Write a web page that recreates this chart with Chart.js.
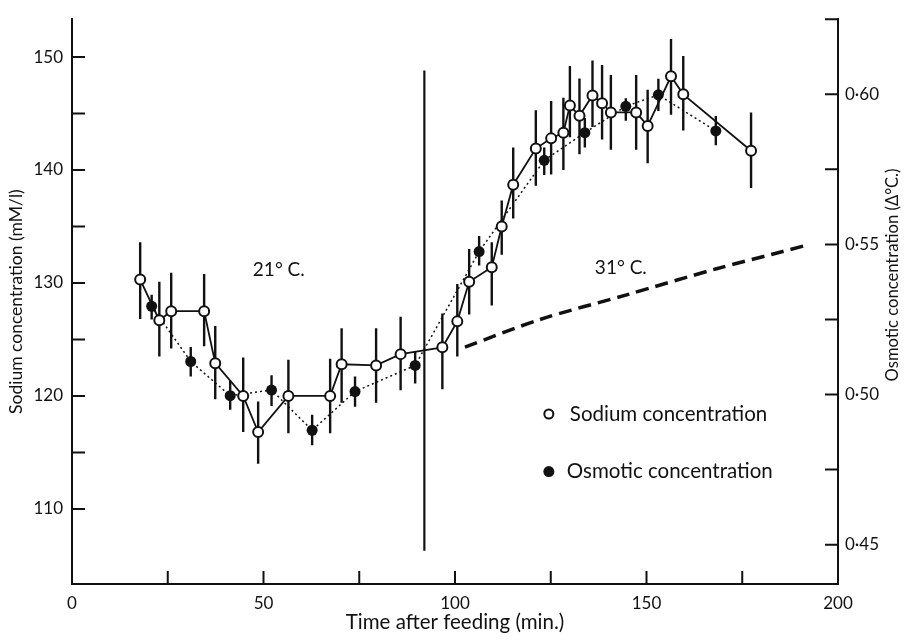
<!DOCTYPE html>
<html>
<head>
<meta charset="utf-8">
<script src="https://cdn.jsdelivr.net/npm/chart.js@4.4.1/dist/chart.umd.min.js"></script>
<style>
  html, body { margin: 0; padding: 0; background: #fff; }
</style>
</head>
<body>
<canvas id="myChart" width="905" height="640"></canvas>
<script>
'use strict'

// sodium concentration (open circles), mM/l, with error bar ends
var sodiumTime   = [17.8, 22.8, 25.9, 34.5, 37.4, 44.7, 48.6, 56.5, 67.4, 70.4, 79.4, 85.8, 96.7, 100.6, 103.7, 109.6, 112.2, 115.2, 121.1, 125.1, 128.3, 130.0, 132.5, 135.9, 138.4, 140.7, 147.3, 150.3, 156.4, 159.6, 177.3];
var sodiumValues = [130.3, 126.7, 127.5, 127.5, 122.9, 120.0, 116.8, 120.0, 120.0, 122.8, 122.7, 123.7, 124.3, 126.6, 130.1, 131.4, 135.0, 138.7, 141.9, 142.8, 143.3, 145.7, 144.8, 146.6, 145.9, 145.1, 145.1, 143.9, 148.3, 146.7, 141.7];
var sodiumLow    = [126.8, 123.5, 124.2, 124.4, 119.7, 116.8, 114.0, 116.7, 116.7, 119.4, 119.4, 120.5, 120.6, 123.5, 127.2, 128.0, 132.5, 135.7, 138.6, 139.6, 140.0, 142.9, 141.4, 143.8, 142.7, 141.8, 141.8, 140.6, 144.9, 143.5, 138.4];
var sodiumHigh   = [133.6, 130.1, 130.9, 130.8, 126.2, 123.4, 119.5, 123.2, 123.3, 126.0, 126.0, 127.0, 127.3, 129.9, 133.0, 133.6, 137.3, 142.0, 145.3, 146.1, 146.4, 149.2, 148.1, 149.7, 149.3, 148.4, 148.4, 147.1, 151.6, 150.1, 145.1];

// osmotic concentration (filled circles), delta degC
var osmoticTime   = [20.8, 31.0, 41.3, 52.1, 62.7, 73.9, 89.6, 106.3, 123.3, 133.9, 144.6, 153.1, 168.1];
var osmoticValues = [0.5294, 0.5110, 0.4996, 0.5015, 0.4881, 0.5010, 0.5097, 0.5476, 0.5780, 0.5872, 0.5960, 0.5998, 0.5878];
var osmoticLow    = [0.5250, 0.5060, 0.4949, 0.4962, 0.4831, 0.4959, 0.5037, 0.5430, 0.5731, 0.5823, 0.5912, 0.5944, 0.5830];
var osmoticHigh   = [0.5332, 0.5158, 0.5047, 0.5064, 0.4933, 0.5060, 0.5145, 0.5528, 0.5823, 0.5921, 0.5987, 0.6052, 0.5928];

// thick dashed line (31 C period)
var dashedTime   = [102.6, 122.2, 144.8, 168.3, 183.1, 191.4];
var dashedValues = [0.5158, 0.5250, 0.5332, 0.5419, 0.5468, 0.5496];

// temperature change marker
var switchTime   = [92, 92];
var switchSodium = [106.3, 148.8];

// axes
var timeTicks         = [0, 50, 100, 150, 200];
var timeMinorTicks    = [25, 75, 125, 175];
var sodiumTicks       = [110, 120, 130, 140, 150];
var sodiumMinorTicks  = [115, 125, 135, 145];
var osmoticTicks      = [0.45, 0.50, 0.55, 0.60];
var osmoticMinorTicks = [0.475, 0.525, 0.575, 0.625];

var seriesNames = ['Sodium concentration', 'Osmotic concentration'];
var tempLabels  = ['21\u00b0 C.', '31\u00b0 C.'];

var INK = '#111';
var FONT = 'Lato';

function toPoints(xs, ys) {
    return xs.map(function (v, i) { return {x: v, y: ys[i]}; });
}

var paperPlugin = {
    id: 'paper',
    beforeDatasetsDraw: function (chart) {
        var ctx = chart.ctx;
        var sx = chart.scales.x, sy = chart.scales.y, sy2 = chart.scales.y2;
        ctx.save();
        ctx.strokeStyle = INK;
        ctx.lineWidth = 2.4;
        ctx.beginPath();
        for (var i = 0; i < sodiumTime.length; i++) {
            var px = sx.getPixelForValue(sodiumTime[i]);
            ctx.moveTo(px, sy.getPixelForValue(sodiumLow[i]));
            ctx.lineTo(px, sy.getPixelForValue(sodiumHigh[i]));
        }
        for (var j = 0; j < osmoticTime.length; j++) {
            var qx = sx.getPixelForValue(osmoticTime[j]);
            ctx.moveTo(qx, sy2.getPixelForValue(osmoticLow[j]));
            ctx.lineTo(qx, sy2.getPixelForValue(osmoticHigh[j]));
        }
        ctx.stroke();
        ctx.restore();
    },
    afterDraw: function (chart) {
        var ctx = chart.ctx, area = chart.chartArea;
        var sx = chart.scales.x, sy = chart.scales.y, sy2 = chart.scales.y2;
        var len = 13;
        ctx.save();
        ctx.strokeStyle = INK;
        ctx.lineWidth = 2;
        ctx.beginPath();
        timeTicks.concat(timeMinorTicks).forEach(function (v) {
            var p = sx.getPixelForValue(v);
            ctx.moveTo(p, area.bottom); ctx.lineTo(p, area.bottom - len);
        });
        sodiumTicks.concat(sodiumMinorTicks).forEach(function (v) {
            var p = sy.getPixelForValue(v);
            ctx.moveTo(area.left, p); ctx.lineTo(area.left + len, p);
        });
        osmoticTicks.concat(osmoticMinorTicks).forEach(function (v) {
            var p = sy2.getPixelForValue(v);
            ctx.moveTo(area.right, p); ctx.lineTo(area.right - len, p);
        });
        ctx.stroke();

        ctx.fillStyle = INK;
        ctx.textBaseline = 'middle';
        ctx.font = '19px ' + FONT;
        ctx.textAlign = 'center';
        ctx.fillText(tempLabels[0], sx.getPixelForValue(54), sy.getPixelForValue(131.2));
        ctx.fillText(tempLabels[1], sx.getPixelForValue(143.3), sy.getPixelForValue(131.35));

        // legend
        var lx = sx.getPixelForValue(124.5);
        var ly1 = sy.getPixelForValue(118.4), ly2 = sy.getPixelForValue(113.3);
        ctx.lineWidth = 2;
        ctx.beginPath();
        ctx.arc(lx, ly1, 4.5, 0, Math.PI * 2);
        ctx.fillStyle = '#fff';
        ctx.fill();
        ctx.stroke();
        ctx.beginPath();
        ctx.arc(lx, ly2, 5.5, 0, Math.PI * 2);
        ctx.fillStyle = INK;
        ctx.fill();
        ctx.textAlign = 'left';
        ctx.font = '20.5px ' + FONT;
        ctx.fillText(seriesNames[0], lx + 21, ly1);
        ctx.fillText(seriesNames[1], lx + 18, ly2);

        // right axis title, reading upward
        ctx.translate(893, 275);
        ctx.rotate(-Math.PI / 2);
        ctx.textAlign = 'center';
        ctx.font = '16.6px ' + FONT;
        ctx.fillText('Osmotic concentration (\u0394\u00b0C.)', 0, 0);
        ctx.restore();
    }
};

Chart.defaults.font.family = FONT;
Chart.defaults.font.size = 16;
Chart.defaults.color = INK;

var ctx = document.getElementById('myChart').getContext('2d');

var myChart = new Chart(ctx, {
    type: 'line',
    data: {
        datasets: [
            {
                label: seriesNames[0],
                data: toPoints(sodiumTime, sodiumValues),
                yAxisID: 'y',
                borderColor: INK,
                borderWidth: 1.8,
                pointRadius: 5,
                pointBorderWidth: 2,
                pointBackgroundColor: '#fff',
                pointBorderColor: INK,
                tension: 0
            },
            {
                label: seriesNames[1],
                data: toPoints(osmoticTime, osmoticValues),
                yAxisID: 'y2',
                borderColor: INK,
                borderWidth: 1.5,
                borderDash: [2, 3],
                pointRadius: 5.5,
                pointBorderWidth: 0,
                pointBackgroundColor: INK,
                tension: 0
            },
            {
                label: 'dashed',
                data: toPoints(dashedTime, dashedValues),
                yAxisID: 'y2',
                borderColor: INK,
                borderWidth: 3.5,
                borderDash: [13, 7],
                pointRadius: 0,
                tension: 0.3
            },
            {
                label: 'switch',
                data: toPoints(switchTime, switchSodium),
                yAxisID: 'y',
                borderColor: INK,
                borderWidth: 2.2,
                pointRadius: 0
            }
        ]
    },
    options: {
        responsive: false,
        animation: false,
        layout: { padding: { top: 10, left: 0, right: 0, bottom: 0 } },
        plugins: {
            legend: { display: false },
            tooltip: { enabled: false }
        },
        scales: {
            x: {
                type: 'linear',
                position: 'bottom',
                min: 0,
                max: 200,
                afterFit: function (scale) { scale.height = 56; },
                afterBuildTicks: function (scale) {
                    scale.ticks = timeTicks.map(function (v) { return {value: v}; });
                },
                ticks: { autoSkip: false, maxRotation: 0, padding: 9, font: { size: 17 } },
                grid: { display: false, drawTicks: false },
                border: { display: true, color: INK, width: 2 },
                title: {
                    display: true,
                    text: 'Time after feeding (min.)',
                    font: { size: 20.5 },
                    padding: { top: 0, bottom: 5 }
                }
            },
            y: {
                type: 'linear',
                position: 'left',
                min: 103.35,
                max: 153.35,
                afterFit: function (scale) { scale.width = 72; },
                afterBuildTicks: function (scale) {
                    scale.ticks = sodiumTicks.map(function (v) { return {value: v}; });
                },
                ticks: { autoSkip: false, padding: 9, font: { size: 17 } },
                grid: { display: false, drawTicks: false },
                border: { display: true, color: INK, width: 2 },
                title: {
                    display: true,
                    text: 'Sodium concentration (mM/l)',
                    font: { size: 17.5 },
                    padding: { top: 6, bottom: 0 }
                }
            },
            y2: {
                type: 'linear',
                position: 'right',
                min: 0.4369,
                max: 0.625,
                afterFit: function (scale) { scale.width = 67; },
                afterBuildTicks: function (scale) {
                    scale.ticks = osmoticTicks.map(function (v) { return {value: v}; });
                },
                ticks: {
                    autoSkip: false,
                    padding: 7,
                    font: { size: 17 },
                    callback: function (v) { return v.toFixed(2).replace('.', '\u00b7'); }
                },
                grid: { display: false, drawTicks: false },
                border: { display: true, color: INK, width: 2 }
            }
        }
    },
    plugins: [paperPlugin]
});
</script>
</body>
</html>
